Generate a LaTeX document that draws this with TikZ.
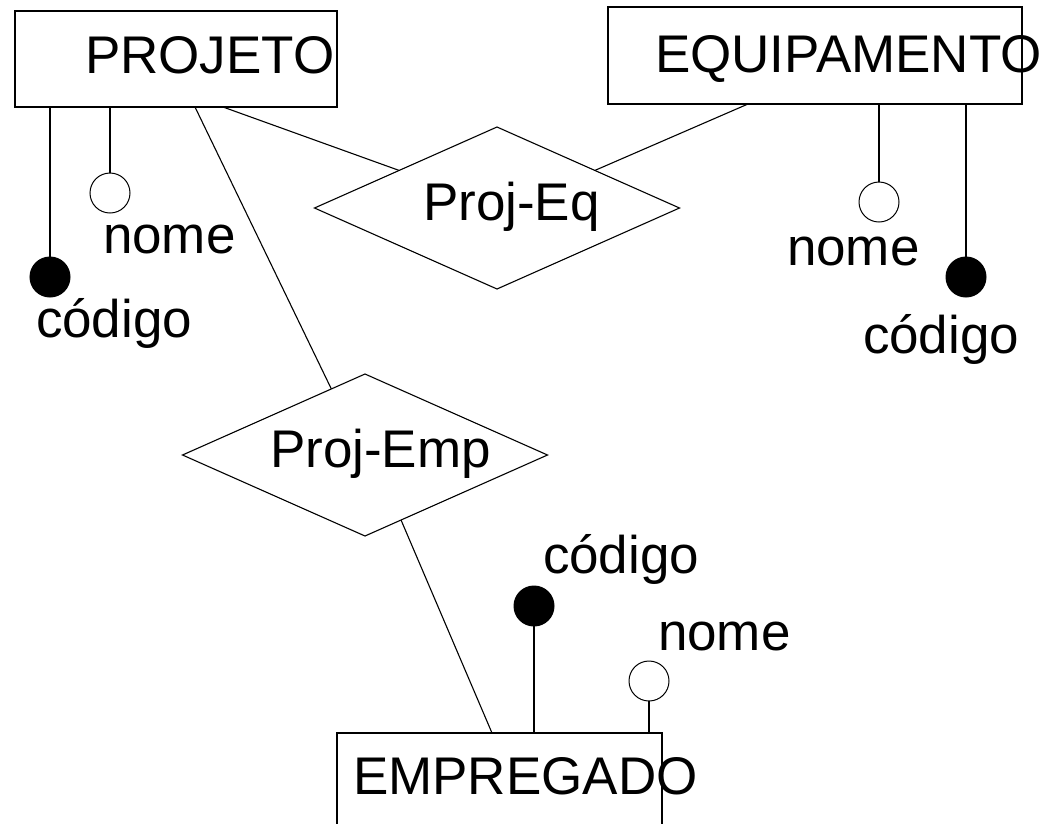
\documentclass[tikz,border=0pt]{standalone}
\usepackage{fontspec}
\setmainfont{Liberation Sans}
\usetikzlibrary{shapes.geometric}
\begin{document}
\begin{tikzpicture}[x=1pt,y=-1pt,
  every node/.style={inner sep=0pt,outer sep=0pt},
  lbl/.style={anchor=base west,font=\fontsize{53}{61}\selectfont},
  entity/.style={draw,line width=1.2pt,rectangle,anchor=north west},
  rel/.style={draw,line width=1.1pt,diamond,minimum width=365pt,minimum height=162pt},
  keyattr/.style={circle,fill=black,draw,line width=1pt,minimum size=40pt},
  attr/.style={circle,fill=white,draw,line width=1pt,minimum size=40pt},
  conn/.style={line width=1.1pt}]
\useasboundingbox (0,0) rectangle (1050,823);
% entities
\node[entity,minimum width=322pt,minimum height=96pt] (projeto) at (15,11) {};
\node[entity,minimum width=414pt,minimum height=97pt] (equip) at (608,7) {};
\node[entity,minimum width=325pt,minimum height=120pt] (empreg) at (337,733) {};
\node[lbl] (projetolbl) at (85,73) {PROJETO};
\node[lbl] (equiplbl) at (655,72) {EQUIPAMENTO};
\node[lbl] (empreglbl) at (353,794) {EMPREGADO};
% relationships
\node[rel] (projeq) at (497,208) {};
\node[rel] (projemp) at (365,455) {};
\node[lbl] (projeqlbl) at (423,220) {Proj-Eq};
\node[lbl] (projemplbl) at (270,467) {Proj-Emp};
% attributes
\node[keyattr] (pcod) at (50,277) {};
\node[attr] (pnome) at (110,193) {};
\node[attr] (enome) at (879,202) {};
\node[keyattr] (ecod) at (966,277) {};
\node[keyattr] (mcod) at (534,606) {};
\node[attr] (mnome) at (649,681) {};
\node[lbl] (pcodlbl) at (36,337) {código};
\node[lbl] (pnomelbl) at (103,253) {nome};
\node[lbl] (enomelbl) at (787,265) {nome};
\node[lbl] (ecodlbl) at (863,353) {código};
\node[lbl] (mcodlbl) at (543,573) {código};
\node[lbl] (mnomelbl) at (658,650) {nome};
% connectors
\coordinate (p1) at (223,107);
\coordinate (p2) at (195,107);
\coordinate (q1) at (748,104);
\coordinate (m1) at (492,733);
\draw[conn] (p1) -- (projeq.159);
\draw[conn] (q1) -- (projeq.21);
\draw[conn] (p2) -- (projemp.117);
\draw[conn] (m1) -- (projemp.-61);
\draw[conn] (pcod) -- (pcod |- projeto.south);
\draw[conn] (pnome) -- (pnome |- projeto.south);
\draw[conn] (enome) -- (enome |- equip.south);
\draw[conn] (ecod) -- (ecod |- equip.south);
\draw[conn] (mcod) -- (mcod |- empreg.north);
\draw[conn] (mnome) -- (mnome |- empreg.north);
\end{tikzpicture}
\end{document}
